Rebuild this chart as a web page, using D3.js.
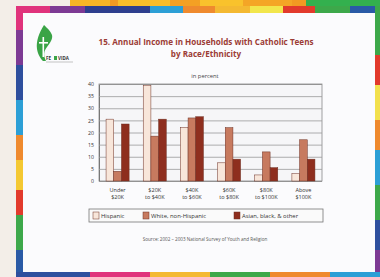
<!DOCTYPE html>
<html>
<head>
<meta charset="utf-8">
<script src="https://cdn.jsdelivr.net/npm/d3@7"></script>
<style>
  html, body { margin: 0; padding: 0; background: #f3eee8; }
  svg { display: block; font-family: "Open Sans", "DejaVu Sans", sans-serif; }
</style>
</head>
<body>
<div id="chart"></div>
<script>
const categories = ["Under $20K", "$20K to $40K", "$40K to $60K", "$60K to $80K", "$80K to $100K", "Above $100K"];
const categoryLines = [["Under", "$20K"], ["$20K", "to $40K"], ["$40K", "to $60K"], ["$60K", "to $80K"], ["$80K", "to $100K"], ["Above", "$100K"]];
const seriesNames = ["Hispanic", "White, non-Hispanic", "Asian, black, & other"];
const hispanic = [25.5, 39.5, 22, 7.5, 2.5, 3];
const white = [4, 18.5, 26, 22, 12, 17];
const other = [23.5, 25.5, 26.5, 9, 5.5, 9];
const yTicks = [0, 5, 10, 15, 20, 25, 30, 35, 40];

const colors = ["#f8e6da", "#c77a5f", "#8e2e1e"];
const W = 380, H = 277;

const svg = d3.select("#chart").append("svg")
  .attr("width", W).attr("height", H);

// background stripes above the slide
svg.append("rect").attr("x", 0).attr("y", 0).attr("width", W).attr("height", H).attr("fill", "#f3eee8");
const topBlocks = [[70, 110, "#f7b526"], [110, 118, "#f29a22"], [118, 170, "#f9bd2a"], [170, 200, "#f4a024"], [200, 243, "#f9c22c"], [243, 292, "#f4a526"], [292, 306, "#f29a22"], [306, 380, "#33b04e"]];
topBlocks.forEach(b => svg.append("rect").attr("x", b[0]).attr("y", 0).attr("width", b[1] - b[0]).attr("height", 8).attr("fill", b[2]));

// rainbow frame
const frameX = 16, frameY = 6, frameW = 380 - 16, frameH = 277 - 6;
svg.append("rect").attr("x", frameX).attr("y", frameY).attr("width", frameW).attr("height", frameH).attr("fill", "#fbfbfd");
const topColors = [[16, 50, "#e0337c"], [50, 85, "#7d3a94"], [85, 150, "#2e3f8e"], [150, 183, "#2c9fd6"], [183, 215, "#ef8a2e"], [215, 250, "#f4b932"], [250, 283, "#f2e64c"], [283, 315, "#e23a2c"], [315, 350, "#3da84a"], [350, 380, "#2a5aa6"]];
topColors.forEach(c => svg.append("rect").attr("x", c[0]).attr("y", frameY).attr("width", c[1] - c[0]).attr("height", 7).attr("fill", c[2]));
const leftColors = [[6, 30, "#e0337c"], [30, 65, "#7d3a94"], [65, 100, "#2e4f9e"], [100, 135, "#2c9fd6"], [135, 160, "#ef8a2e"], [160, 190, "#f4c832"], [190, 215, "#e23a2c"], [215, 250, "#3da84a"], [250, 277, "#2a5aa6"]];
leftColors.forEach(c => svg.append("rect").attr("x", frameX).attr("y", c[0]).attr("width", 7).attr("height", c[1] - c[0]).attr("fill", c[2]));
const rightColors = [[6, 55, "#3da84a"], [55, 85, "#e23a2c"], [85, 120, "#f2e04c"], [120, 150, "#ef8a2e"], [150, 185, "#2c9fd6"], [185, 220, "#3da84a"], [220, 250, "#2e4f9e"], [250, 277, "#7d3a94"]];
rightColors.forEach(c => svg.append("rect").attr("x", 375).attr("y", c[0]).attr("width", 5).attr("height", c[1] - c[0]).attr("fill", c[2]));
const bottomColors = [[16, 90, "#2e4f9e"], [90, 150, "#e0337c"], [150, 210, "#f4b932"], [210, 270, "#3da84a"], [270, 330, "#ef8a2e"], [330, 380, "#2c9fd6"]];
bottomColors.forEach(c => svg.append("rect").attr("x", c[0]).attr("y", 272).attr("width", c[1] - c[0]).attr("height", 5).attr("fill", c[2]));

// logo
const logo = svg.append("g").attr("transform", "translate(35,25)");
logo.append("path")
  .attr("d", "M9,0 C4,8 1,16 2,24 C3,30 6,34 8,36 L11,36 C8,30 9,26 12,22 C15,18 18,14 17,10 C15,5 12,3 9,0 Z")
  .attr("fill", "#3aa446");
logo.append("rect").attr("x", 7.5).attr("y", 12).attr("width", 1.6).attr("height", 20).attr("fill", "#fff");
logo.append("rect").attr("x", 4).attr("y", 17).attr("width", 9).attr("height", 1.6).attr("fill", "#fff");
logo.append("text").attr("x", 11).attr("y", 35).attr("font-size", 4.5).attr("font-weight", "bold").attr("fill", "#333").text("FE");
logo.append("rect").attr("x", 19).attr("y", 31).attr("width", 3).attr("height", 4).attr("fill", "#3aa446");
logo.append("text").attr("x", 23).attr("y", 35).attr("font-size", 4.5).attr("font-weight", "bold").attr("fill", "#333").text("VIDA");
logo.append("line").attr("x1", 11).attr("x2", 38).attr("y1", 37).attr("y2", 37).attr("stroke", "#888").attr("stroke-width", 0.5);

// titles
const titleColor = "#9c3d36";
svg.append("text").attr("x", 206).attr("y", 45).attr("text-anchor", "middle")
  .attr("font-size", 8.1).attr("font-weight", "bold").attr("fill", titleColor)
  .text("15. Annual Income in Households with Catholic Teens");
svg.append("text").attr("x", 206).attr("y", 56.5).attr("text-anchor", "middle")
  .attr("font-size", 8.1).attr("font-weight", "bold").attr("fill", titleColor)
  .text("by Race/Ethnicity");
svg.append("text").attr("x", 205).attr("y", 78).attr("text-anchor", "middle")
  .attr("font-size", 5.8).attr("fill", "#444").text("in percent");

// plot
const margin = { left: 99, right: 322, top: 84, bottom: 181 };
const x0 = d3.scaleBand().domain(categories).range([margin.left, margin.right])
  .paddingInner(0.38).paddingOuter(0.19);
const x1 = d3.scaleBand().domain(seriesNames).range([0, x0.bandwidth()]);
const y = d3.scaleLinear().domain([0, 40]).range([margin.bottom, margin.top]);

svg.append("rect").attr("x", margin.left).attr("y", margin.top)
  .attr("width", margin.right - margin.left).attr("height", margin.bottom - margin.top)
  .attr("fill", "#f6f6f8").attr("stroke", "#8a8a8a").attr("stroke-width", 0.8);

const yAxis = svg.append("g").attr("transform", `translate(${margin.left},0)`)
  .call(d3.axisLeft(y).tickValues(yTicks).tickSize(-(margin.right - margin.left)).tickPadding(5));
yAxis.select(".domain").attr("stroke", "#777");
yAxis.selectAll(".tick line").attr("stroke", "#9a9a9a").attr("stroke-width", 0.8);
yAxis.selectAll(".tick text").attr("font-size", 5.2).attr("fill", "#333").attr("font-family", "Open Sans, sans-serif");

const series = [hispanic, white, other];
const groups = svg.append("g").selectAll("g").data(categories).join("g")
  .attr("transform", d => `translate(${x0(d)},0)`);
groups.selectAll("rect")
  .data((d, i) => series.map((s, k) => ({ name: seriesNames[k], value: s[i], k })))
  .join("rect")
  .attr("x", d => x1(d.name))
  .attr("y", d => y(d.value))
  .attr("width", x1.bandwidth())
  .attr("height", d => y(0) - y(d.value))
  .attr("fill", d => colors[d.k])
  .attr("stroke", "#6e3024").attr("stroke-width", 0.5);

// category labels
const catG = svg.append("g");
categories.forEach((c, i) => {
  const t = catG.append("text").attr("x", x0(c) + x0.bandwidth() / 2).attr("y", 192)
    .attr("text-anchor", "middle").attr("font-size", 5.5).attr("fill", "#333");
  categoryLines[i].forEach((line, j) => {
    t.append("tspan").attr("x", x0(c) + x0.bandwidth() / 2).attr("dy", j === 0 ? 0 : 7).text(line);
  });
});

// legend
svg.append("rect").attr("x", 89).attr("y", 209).attr("width", 234).attr("height", 13)
  .attr("fill", "#fafafa").attr("stroke", "#777").attr("stroke-width", 0.8);
const legendX = [93, 143, 234];
seriesNames.forEach((n, k) => {
  svg.append("rect").attr("x", legendX[k]).attr("y", 212).attr("width", 6).attr("height", 7)
    .attr("fill", colors[k]).attr("stroke", "#6e3024").attr("stroke-width", 0.5);
  svg.append("text").attr("x", legendX[k] + 8).attr("y", 218).attr("font-size", 5.9)
    .attr("fill", "#333").text(n);
});

// source
svg.append("text").attr("x", 205).attr("y", 241).attr("text-anchor", "middle")
  .attr("font-size", 4.6).attr("fill", "#555")
  .text("Source: 2002 – 2003 National Survey of Youth and Religion");
</script>
</body>
</html>
